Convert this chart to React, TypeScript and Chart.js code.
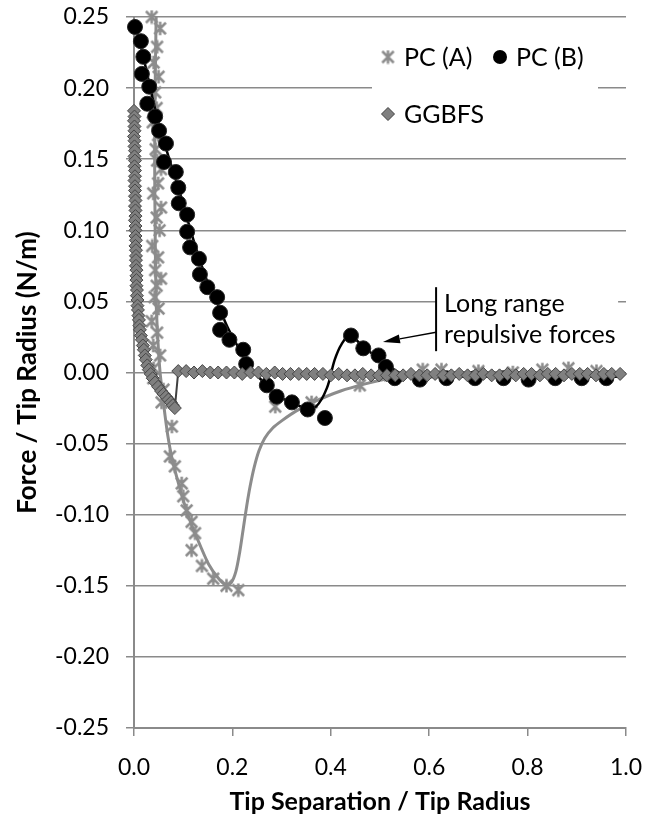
import React, { useEffect, useRef } from 'react';
import { Chart, registerables } from 'chart.js';

Chart.register(...registerables);

const FONT = 'Lato, "Open Sans", "DejaVu Sans", sans-serif';

// PC (A): measured points
const pcAX = [
  0.036, 0.053, 0.047, 0.040, 0.050, 0.043, 0.046, 0.038, 0.049, 0.044, 0.047, 0.055, 0.049, 0.039,
  0.055, 0.046, 0.052, 0.037, 0.049, 0.043, 0.055, 0.046, 0.042, 0.050, 0.036, 0.047, 0.039, 0.053,
  0.040, 0.039, 0.060, 0.056,
  0.077, 0.073, 0.083, 0.097, 0.100, 0.107, 0.117, 0.124, 0.117, 0.138, 0.161, 0.188, 0.212,
  0.287, 0.361, 0.459, 0.520, 0.587, 0.625, 0.700, 0.770, 0.830, 0.883, 0.940,
];
const pcAY = [
  0.250, 0.242, 0.229, 0.218, 0.208, 0.197, 0.186, 0.176, 0.167, 0.157, 0.149, 0.143, 0.133, 0.126,
  0.116, 0.109, 0.100, 0.089, 0.081, 0.072, 0.066, 0.061, 0.053, 0.045, 0.036, 0.028, 0.019, 0.012,
  0.003, -0.004, -0.012, -0.021,
  -0.038, -0.059, -0.066, -0.078, -0.087, -0.097, -0.105, -0.113, -0.125, -0.136, -0.145, -0.150, -0.153,
  -0.024, -0.021, -0.009, -0.002, 0.002, 0.002, 0.001, 0.000, 0.002, 0.003, 0.001,
];

// PC (A): smoothed curve
const pcACurveX = [
  0.045, 0.043, 0.042, 0.043, 0.045, 0.049, 0.053, 0.058, 0.063, 0.069, 0.077, 0.088, 0.102, 0.118,
  0.135, 0.152, 0.170, 0.185, 0.197, 0.207, 0.215, 0.222, 0.229, 0.236, 0.244, 0.254, 0.266, 0.282,
  0.300, 0.330, 0.370, 0.420, 0.470, 0.520, 0.580, 0.650, 0.800, 0.950,
];
const pcACurveY = [
  0.250, 0.200, 0.150, 0.100, 0.050, 0.020, 0.000, -0.015, -0.030, -0.045, -0.060, -0.075, -0.092, -0.108,
  -0.122, -0.135, -0.144, -0.149, -0.148, -0.140, -0.126, -0.110, -0.094, -0.080, -0.067, -0.055, -0.046, -0.039,
  -0.034, -0.027, -0.020, -0.013, -0.008, -0.004, -0.001, 0.000, 0.000, 0.000,
];

// PC (B): measured points
const pcBX = [
  0.002, 0.014, 0.019, 0.016, 0.031, 0.027, 0.043, 0.051, 0.065, 0.061, 0.085, 0.090, 0.091, 0.108,
  0.108, 0.114, 0.132, 0.134, 0.149, 0.169, 0.175, 0.175, 0.194, 0.222, 0.228, 0.270, 0.290, 0.321,
  0.353, 0.388, 0.441, 0.466, 0.497, 0.512, 0.530, 0.581, 0.635, 0.693, 0.751, 0.802, 0.856, 0.910, 0.960,
];
const pcBY = [
  0.243, 0.233, 0.222, 0.210, 0.201, 0.189, 0.180, 0.170, 0.161, 0.148, 0.141, 0.130, 0.119, 0.111,
  0.099, 0.088, 0.080, 0.069, 0.060, 0.053, 0.042, 0.030, 0.023, 0.016, 0.006, -0.009, -0.017, -0.021,
  -0.026, -0.032, 0.026, 0.017, 0.012, 0.004, -0.004, -0.005, -0.004, -0.004, -0.004, -0.005, -0.004, -0.004, -0.004,
];

// PC (B): smoothed curve
const pcBCurveX = [
  0.002, 0.015, 0.030, 0.050, 0.070, 0.090, 0.110, 0.130, 0.150, 0.170, 0.190, 0.210, 0.230, 0.250,
  0.270, 0.290, 0.320, 0.350, 0.370, 0.392, 0.408, 0.422, 0.439, 0.466, 0.497, 0.520, 0.550, 0.580,
  0.650, 0.750, 0.850, 0.950, 0.990,
];
const pcBCurveY = [
  0.245, 0.228, 0.205, 0.175, 0.152, 0.130, 0.106, 0.083, 0.063, 0.048, 0.032, 0.019, 0.007, -0.002,
  -0.009, -0.016, -0.021, -0.025, -0.024, -0.011, 0.009, 0.020, 0.026, 0.018, 0.010, 0.004, -0.002, -0.003,
  -0.003, -0.003, -0.003, -0.003, -0.003,
];

// GGBFS: measured points
const ggbfsX = [
  0.000, 0.001, 0.000, 0.001, 0.001, 0.000, 0.001, 0.001, 0.002, 0.001, 0.002, 0.001, 0.002, 0.002,
  0.001, 0.002, 0.002, 0.002, 0.003, 0.002, 0.003, 0.003, 0.002, 0.003, 0.003, 0.003, 0.004, 0.003,
  0.004, 0.004, 0.004, 0.004, 0.005, 0.005, 0.005, 0.005, 0.006, 0.006, 0.007, 0.007, 0.008, 0.009,
  0.010, 0.011, 0.012, 0.014, 0.016, 0.018, 0.020, 0.022, 0.024, 0.027, 0.030, 0.034, 0.038, 0.043,
  0.049, 0.055, 0.060, 0.065, 0.070, 0.075, 0.079, 0.083,
  0.090, 0.106, 0.122, 0.139, 0.155, 0.171, 0.188, 0.204, 0.220, 0.237, 0.253, 0.269, 0.286, 0.302,
  0.318, 0.335, 0.351, 0.367, 0.384, 0.400, 0.416, 0.433, 0.449, 0.465, 0.482, 0.498, 0.514, 0.531,
  0.547, 0.563, 0.580, 0.596, 0.612, 0.629, 0.645, 0.661, 0.678, 0.694, 0.710, 0.727, 0.743, 0.759,
  0.776, 0.792, 0.808, 0.825, 0.841, 0.857, 0.874, 0.890, 0.906, 0.922, 0.939, 0.955, 0.971, 0.988,
];
const ggbfsY = [
  0.184, 0.180, 0.177, 0.173, 0.170, 0.166, 0.163, 0.159, 0.156, 0.152, 0.149, 0.145, 0.142, 0.138,
  0.135, 0.131, 0.128, 0.124, 0.121, 0.117, 0.114, 0.110, 0.107, 0.103, 0.100, 0.096, 0.093, 0.089,
  0.086, 0.082, 0.079, 0.075, 0.072, 0.068, 0.065, 0.061, 0.058, 0.054, 0.051, 0.047, 0.044, 0.040,
  0.037, 0.033, 0.030, 0.026, 0.023, 0.019, 0.016, 0.012, 0.009, 0.005, 0.002, -0.001, -0.004, -0.007,
  -0.010, -0.013, -0.015, -0.017, -0.019, -0.021, -0.023, -0.025,
  0.001, 0.001, 0.000, 0.001, 0.000, 0.000, 0.000, 0.000, -0.001, 0.000, 0.000, -0.001, 0.000, -0.001,
  -0.001, -0.001, -0.001, -0.001, -0.001, -0.002, -0.001, -0.002, -0.002, -0.001, -0.002, -0.002, -0.002, -0.002,
  -0.002, -0.001, -0.002, -0.002, -0.001, -0.002, -0.002, -0.001, -0.002, -0.002, -0.001, -0.002, -0.002, -0.001,
  -0.002, -0.001, -0.001, -0.002, -0.001, -0.001, -0.002, -0.001, -0.001, -0.001, -0.002, -0.001, -0.001, -0.001,
];

const xTicks = [0, 0.2, 0.4, 0.6, 0.8, 1.0];
const yTicks = [-0.25, -0.2, -0.15, -0.1, -0.05, 0, 0.05, 0.1, 0.15, 0.2, 0.25];

const seriesNames = ['PC (A)', 'PC (B)', 'GGBFS'];
const noteLines = ['Long range', 'repulsive forces'];
// where the note's arrow points and where its bar sits, in data units
const noteTarget = { x: 0.506, y: 0.0215 };
const noteBar = { x: 0.614, yTop: 0.060, yBottom: 0.015, yArrow: 0.0283 };

const xTitle = 'Tip Separation / Tip Radius';
const yTitle = 'Force / Tip Radius (N/m)';

const GREY_A = '#8c8c8c';
const GRID = '#8a8a8a';

const pts = (xs: number[], ys: number[]) => xs.map((x, i) => ({ x, y: ys[i] }));

// six-armed star marker: an X with a vertical bar through it
function makeStar(size: number, color: string, lw: number): HTMLCanvasElement {
  const c = document.createElement('canvas');
  c.width = size;
  c.height = size;
  const g = c.getContext('2d')!;
  const m = size / 2;
  const d = m - lw / 2 - 0.5;
  g.strokeStyle = color;
  g.lineWidth = lw;
  g.beginPath();
  g.moveTo(m - d, m - d);
  g.lineTo(m + d, m + d);
  g.moveTo(m - d, m + d);
  g.lineTo(m + d, m - d);
  g.moveTo(m, m - d - 1);
  g.lineTo(m, m + d + 1);
  g.stroke();
  return c;
}

type Marker = 'star' | 'circle' | 'diamond';

function drawMarker(ctx: CanvasRenderingContext2D, kind: Marker, x: number, y: number, star: HTMLCanvasElement) {
  ctx.save();
  if (kind === 'star') {
    ctx.drawImage(star, x - star.width / 2, y - star.height / 2);
  } else if (kind === 'circle') {
    ctx.fillStyle = '#000';
    ctx.beginPath();
    ctx.arc(x, y, 7, 0, Math.PI * 2);
    ctx.fill();
  } else {
    const r = 6.5;
    ctx.fillStyle = '#808080';
    ctx.strokeStyle = '#404040';
    ctx.lineWidth = 1;
    ctx.beginPath();
    ctx.moveTo(x, y - r);
    ctx.lineTo(x + r, y);
    ctx.lineTo(x, y + r);
    ctx.lineTo(x - r, y);
    ctx.closePath();
    ctx.fill();
    ctx.stroke();
  }
  ctx.restore();
}

function makeLegendPlugin(star: HTMLCanvasElement) {
  return {
    id: 'insideLegend',
    afterDraw(chart: Chart) {
      const ctx = chart.ctx;
      ctx.save();
      ctx.fillStyle = '#fff';
      ctx.fillRect(372, 28, 226, 112);
      ctx.font = `25px ${FONT}`;
      ctx.fillStyle = '#000';
      ctx.textBaseline = 'alphabetic';
      ctx.textAlign = 'left';
      const items: { name: string; kind: Marker; mx: number; my: number }[] = [
        { name: seriesNames[0], kind: 'star', mx: 388, my: 57 },
        { name: seriesNames[1], kind: 'circle', mx: 500, my: 57 },
        { name: seriesNames[2], kind: 'diamond', mx: 388, my: 114 },
      ];
      items.forEach((it) => {
        drawMarker(ctx, it.kind, it.mx, it.my, star);
        ctx.fillText(it.name, it.mx + 16, it.my + 9);
      });
      ctx.restore();
    },
  };
}

const notePlugin = {
  id: 'rangeNote',
  afterDraw(chart: Chart) {
    const ctx = chart.ctx;
    const xs = chart.scales.x;
    const ys = chart.scales.y;
    const bx = xs.getPixelForValue(noteBar.x);
    const top = ys.getPixelForValue(noteBar.yTop);
    const bottom = ys.getPixelForValue(noteBar.yBottom);
    const ay = ys.getPixelForValue(noteBar.yArrow);
    const tx = xs.getPixelForValue(noteTarget.x);
    const ty = ys.getPixelForValue(noteTarget.y);
    ctx.save();
    ctx.fillStyle = '#fff';
    ctx.fillRect(bx, top - 2, 182, bottom - top + 4);
    ctx.strokeStyle = '#000';
    ctx.lineWidth = 2;
    ctx.beginPath();
    ctx.moveTo(bx, top);
    ctx.lineTo(bx, bottom);
    ctx.stroke();
    // arrow
    const ang = Math.atan2(ty - ay, tx - bx);
    const headLen = 17;
    const headHalf = 4.5;
    const baseX = tx - headLen * Math.cos(ang);
    const baseY = ty - headLen * Math.sin(ang);
    ctx.lineWidth = 1.5;
    ctx.beginPath();
    ctx.moveTo(bx, ay);
    ctx.lineTo(baseX, baseY);
    ctx.stroke();
    ctx.fillStyle = '#000';
    ctx.beginPath();
    ctx.moveTo(tx, ty);
    ctx.lineTo(baseX + headHalf * Math.sin(ang), baseY - headHalf * Math.cos(ang));
    ctx.lineTo(baseX - headHalf * Math.sin(ang), baseY + headHalf * Math.cos(ang));
    ctx.closePath();
    ctx.fill();
    ctx.font = `25px ${FONT}`;
    ctx.textAlign = 'left';
    ctx.textBaseline = 'alphabetic';
    ctx.fillText(noteLines[0], bx + 8, top + 25);
    ctx.fillText(noteLines[1], bx + 8, top + 56);
    ctx.restore();
  },
};

export default function App() {
  const canvasRef = useRef<HTMLCanvasElement | null>(null);

  useEffect(() => {
    document.body.style.margin = '0';
    const canvas = canvasRef.current;
    if (!canvas) return;
    const star = makeStar(15, GREY_A, 2.5);
    const chart = new Chart(canvas, {
      type: 'scatter',
      data: {
        datasets: [
          {
            label: seriesNames[2],
            data: pts(ggbfsX, ggbfsY),
            showLine: true,
            borderColor: '#404040',
            borderWidth: 2,
            tension: 0,
            pointStyle: 'rectRot',
            pointRadius: 6.5,
            pointBackgroundColor: '#808080',
            pointBorderColor: '#474747',
            pointBorderWidth: 1,
            clip: false,
            order: 0,
          },
          {
            label: seriesNames[1],
            data: pts(pcBX, pcBY),
            showLine: false,
            pointStyle: 'circle',
            pointRadius: 7.5,
            pointBackgroundColor: '#000',
            pointBorderColor: '#262626',
            pointBorderWidth: 1,
            clip: false,
            order: 1,
          },
          {
            label: seriesNames[1] + ' curve',
            data: pts(pcBCurveX, pcBCurveY),
            showLine: true,
            borderColor: '#000',
            borderWidth: 2.5,
            tension: 0.35,
            pointRadius: 0,
            clip: false,
            order: 2,
          },
          {
            label: seriesNames[0],
            data: pts(pcAX, pcAY),
            showLine: false,
            pointStyle: star,
            pointRadius: 8,
            clip: false,
            order: 3,
          },
          {
            label: seriesNames[0] + ' curve',
            data: pts(pcACurveX, pcACurveY),
            showLine: true,
            borderColor: GREY_A,
            borderWidth: 3,
            tension: 0.3,
            pointRadius: 0,
            clip: false,
            order: 4,
          },
        ],
      },
      options: {
        animation: false,
        responsive: false,
        devicePixelRatio: 1,
        layout: { padding: { left: 0, top: 17, right: 27, bottom: 0 } },
        plugins: {
          legend: { display: false },
          tooltip: { enabled: false },
        },
        scales: {
          x: {
            type: 'linear',
            min: 0,
            max: 1,
            afterBuildTicks: (scale: any) => {
              scale.ticks = xTicks.map((v) => ({ value: v }));
            },
            afterFit: (scale: any) => {
              scale.height = 108;
              scale.paddingLeft = 0;
              scale.paddingRight = 0;
            },
            ticks: {
              callback: (v: any) => Number(v).toFixed(1),
              color: '#000',
              font: { family: FONT, size: 23 },
              padding: 18,
              maxRotation: 0,
              autoSkip: false,
            },
            grid: {
              drawOnChartArea: false,
              drawTicks: true,
              tickLength: 8,
              color: GRID,
              lineWidth: 1.5,
            },
            border: { color: GRID, width: 2 },
            title: {
              display: true,
              text: xTitle,
              color: '#000',
              font: { family: FONT, size: 25, weight: 'bold' },
              padding: { top: 0, bottom: 19 },
            },
          },
          y: {
            type: 'linear',
            min: -0.25,
            max: 0.25,
            afterBuildTicks: (scale: any) => {
              scale.ticks = yTicks.map((v) => ({ value: v }));
            },
            afterFit: (scale: any) => {
              scale.width = 134;
              scale.paddingTop = 0;
              scale.paddingBottom = 0;
            },
            ticks: {
              callback: (v: any) => Number(v).toFixed(2),
              color: '#000',
              font: { family: FONT, size: 23 },
              padding: 17,
              autoSkip: false,
            },
            grid: {
              drawTicks: true,
              tickLength: 8,
              color: GRID,
              lineWidth: 1.5,
            },
            border: { color: GRID, width: 2 },
            title: {
              display: true,
              text: yTitle,
              color: '#000',
              font: { family: FONT, size: 26, weight: 'bold' },
              padding: { top: 12, bottom: 0 },
            },
          },
        },
      },
      plugins: [notePlugin, makeLegendPlugin(star)],
    } as any);
    return () => chart.destroy();
  }, []);

  return (
    <div style={{ width: 653, height: 836, background: '#fff' }}>
      <canvas ref={canvasRef} width={653} height={836} style={{ display: 'block' }} />
    </div>
  );
}
